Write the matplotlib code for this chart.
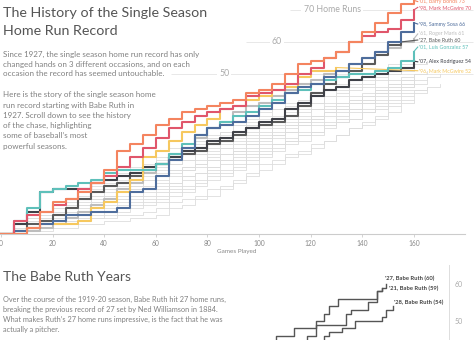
import numpy as np
import matplotlib.pyplot as plt

plt.rcParams['font.family'] = ['Lato', 'DejaVu Sans']

# cumulative home runs, read every 5 games (highlighted seasons)
bonds_01 = [0, 0, 2, 7, 10, 11, 13, 16, 20, 26, 28, 31, 34, 36, 38, 39, 40,
            41, 42, 44, 45, 47, 50, 53, 54, 55, 57, 60, 63, 66, 69, 72, 73]
mcgwire_98 = [0, 4, 6, 7, 9, 11, 14, 16, 18, 21, 24, 27, 30, 33, 35, 37, 38,
              39, 40, 43, 44, 45, 47, 50, 52, 55, 57, 60, 62, 63, 64, 67, 70]
sosa_98 = [0, 1, 2, 3, 4, 6, 6, 7, 7, 8, 13, 14, 18, 23, 27, 31, 33,
           34, 35, 37, 39, 41, 44, 46, 47, 49, 51, 53, 55, 57, 60, 63, 66]
maris_61 = [0, 0, 1, 2, 3, 5, 7, 9, 11, 14, 16, 19, 22, 25, 27, 30, 33,
            35, 38, 40, 41, 43, 45, 47, 48, 50, 51, 53, 55, 57, 58, 60, 61]
ruth_27 = [0, 1, 3, 4, 6, 8, 11, 13, 15, 16, 18, 20, 22, 24, 25, 26, 28,
           29, 31, 33, 34, 35, 37, 40, 44, 47, 49, 51, 53, 56, 59, 60]
gonzalez_01 = [0, 4, 8, 13, 14, 15, 16, 17, 19, 20, 20, 20, 22, 25, 28, 31, 33,
               35, 37, 38, 40, 42, 44, 45, 47, 48, 49, 50, 50, 51, 52, 54, 57]
arod_07 = [0, 3, 7, 13, 14, 14, 14, 16, 17, 18, 19, 21, 22, 24, 26, 27, 29,
           30, 32, 33, 35, 36, 39, 41, 43, 45, 46, 48, 49, 50, 51, 52, 54]
mcgwire_96 = [0, 1, 2, 3, 3, 3, 4, 8, 10, 13, 17, 24, 26, 29, 32, 34, 36,
              39, 40, 42, 43, 45, 46, 49, 51, 51, 52]

highlights = [
    ("'61, Roger Maris 61", maris_61, '#bdbdbd', 62.5),
    ("'27, Babe Ruth 60", ruth_27, '#5a5a5a', 60.6),
    ("'07, Alex Rodriguez 54", arod_07, '#3f4148', 53.8),
    ("'96, Mark McGwire 52", mcgwire_96, '#f6c85f', 51.0),
    ("'01, Luis Gonzalez 57", gonzalez_01, '#5ec0ba', 58.4),
    ("'98, Sammy Sosa 66", sosa_98, '#4e6d9c', 65.6),
    ("'98, Mark McGwire 70", mcgwire_98, '#e0566b', 70.8),
    ("'01, Barry Bonds 73", bonds_01, '#f4845f', 72.6),
]

# other big seasons, cumulative home runs every 5 games
others = [
    [0, 0, 1, 1, 2, 2, 3, 3, 4, 4, 5, 5, 6, 8, 9, 11, 12, 14, 16, 18, 20,
     22, 24, 25, 27, 29, 31, 33, 35, 37, 40, 41, 42],
    [0, 1, 1, 2, 3, 4, 5, 5, 6, 7, 8, 9, 10, 12, 13, 15, 17, 18, 20, 22, 24,
     26, 28, 29, 31, 33, 35, 36, 38, 40, 42, 43, 44, 45],
    [0, 1, 2, 3, 4, 5, 6, 7, 8, 9, 10, 11, 12, 14, 15, 17, 19, 20, 22, 24, 26,
     28, 30, 32, 34, 35, 37, 39, 41, 43, 45, 46, 47, 48],
    [0, 1, 3, 4, 5, 6, 7, 9, 10, 11, 12, 13, 14, 16, 18, 19, 21, 23, 24, 26, 28,
     30, 32, 34, 36, 38, 39, 41, 43, 45, 47, 48, 50],
    [0, 2, 3, 4, 6, 7, 8, 10, 11, 12, 14, 15, 16, 18, 20, 21, 23, 25, 26, 28, 30,
     32, 34, 35, 37, 39, 41, 43, 44, 46, 48, 49, 50, 51],
    [0, 1, 3, 5, 6, 8, 9, 11, 12, 14, 15, 17, 18, 20, 21, 23, 25, 27, 28, 30, 32,
     34, 36, 37, 39, 41, 43, 45, 46, 48, 50, 51, 52],
    [0, 2, 4, 5, 7, 8, 10, 11, 13, 14, 16, 18, 20, 22, 23, 25, 27, 28, 30, 32, 34,
     36, 38, 39, 41, 43, 45, 47, 48, 50, 52, 53, 53, 54],
    [0, 2, 4, 6, 8, 9, 11, 12, 14, 16, 18, 20, 22, 24, 25, 27, 29, 30, 32, 34, 36,
     37, 39, 40, 41, 43, 44, 46, 47, 49, 50, 51, 52],
    [0, 3, 5, 7, 9, 10, 12, 14, 16, 18, 20, 22, 24, 25, 27, 29, 31, 32, 34, 36, 38,
     39, 41, 42, 44, 45, 47, 48, 50, 51, 53, 54, 55],
    [0, 3, 5, 7, 9, 11, 13, 15, 17, 19, 21, 24, 26, 27, 28, 29, 30, 31, 32, 34, 35,
     36, 37, 38, 39, 40, 41, 42, 43, 45, 46, 47, 48],
    [0, 1, 1, 2, 3, 3, 4, 5, 5, 6, 6, 7, 8, 10, 11, 12, 14, 15, 17, 19, 22,
     23, 25, 26, 28, 29, 31, 33, 34, 36, 38, 40],
    [0, 1, 2, 3, 5, 6, 7, 8, 10, 11, 12, 14, 15, 16, 18, 19, 20, 22, 23, 25, 27,
     28, 29, 31, 32, 34, 35, 36, 38, 39, 41, 42, 43],
    [0, 2, 3, 5, 6, 8, 9, 11, 12, 14, 15, 17, 19, 20, 21, 22, 24, 25, 26, 28, 30,
     31, 32, 34, 35, 37, 38, 39, 41, 42, 44, 45, 45, 46],
    [0, 1, 2, 3, 4, 4, 5, 6, 7, 8, 9, 10, 11, 13, 14, 16, 18, 19, 21, 23, 25,
     27, 29, 31, 32, 34, 36, 38, 39, 41, 43, 44, 45, 46, 47],
    [0, 2, 4, 5, 7, 9, 11, 12, 14, 15, 17, 19, 21, 22, 23, 25, 26, 27, 29, 31, 33,
     34, 35, 36, 37, 38, 39, 41, 42, 44, 45, 46, 47],
    [0, 1, 2, 3, 4, 5, 7, 8, 9, 10, 11, 12, 13, 15, 17, 19, 21, 23, 25, 27, 29,
     31, 33, 34, 36, 38, 39, 41, 42, 44, 46, 47, 49],
    [0, 1, 3, 4, 6, 7, 9, 10, 11, 13, 14, 15, 17, 19, 20, 22, 23, 25, 27, 29, 31,
     33, 34, 35, 37, 38, 40, 42, 43, 45, 47, 48, 48, 49, 50],
    [0, 2, 4, 6, 8, 10, 12, 13, 15, 17, 19, 21, 23, 25, 27, 28, 30, 32, 34, 35, 37,
     39, 40, 42, 43, 45, 46, 47, 49, 50, 51, 52, 53],
]

# Babe Ruth years (zoomed view): game, cumulative HR
ruth27_g = [126, 129, 133, 136, 138, 140, 141, 143, 151, 152, 153, 154]
ruth27_h = [44, 46, 48, 48, 50, 52, 54, 56, 56, 58, 59, 60]
ruth21_g = [133, 136, 138, 143.5, 145, 146, 150, 152, 153]
ruth21_h = [44, 46, 49, 49, 52, 53, 55, 58, 59]
ruth28_g = [138, 140, 141, 144, 147, 152, 153, 154, 155.5]
ruth28_h = [44, 46, 47, 48, 50, 50, 51, 53, 54]
ruth_labels = ["'27, Babe Ruth (60)", "'21, Babe Ruth (59)", "'28, Babe Ruth (54)"]

W, H = 474, 340
fig = plt.figure(figsize=(W / 100, H / 100), dpi=100)

############################################################
# main chart
############################################################
ax = fig.add_axes([0, 1 - 234 / H, 1, 234 / H])
ax.set_xlim(-0.4, 183.3)
ax.set_ylim(0, 73.1)

for s in others:
    g = np.arange(len(s)) * 5
    ax.plot(g, s, drawstyle='steps-post', color='#dddddd', lw=0.6, zorder=2)

for name, s, c, ly in highlights:
    g = np.arange(len(s)) * 5
    ax.plot(g, s, drawstyle='steps-post', color=c, lw=1.5, zorder=3)
    ax.plot([g[-1], 161.5], [s[-1], ly], color=c, lw=0.8, zorder=3)
    ax.text(162, ly, name, color=c, fontsize=3.8, va='center', ha='left',
            clip_on=False)

# reference lines
for y, x0, lab, xl in [(50, 66, '50', 86.5), (60, 95, '60', 107),
                       (70, 112, '70 Home Runs', 128.3)]:
    ax.hlines(y, x0, 183, color='#e8e8e8', lw=0.7, zorder=1)
    ax.text(xl, y, lab, color='#aaaaaa', fontsize=6.3, ha='center', va='center',
            zorder=1.5, bbox=dict(fc='white', ec='none', pad=1.5))

for sp in ['top', 'left', 'right']:
    ax.spines[sp].set_visible(False)
ax.spines['bottom'].set_color('#cccccc')
ax.spines['bottom'].set_linewidth(0.8)
ax.spines['bottom'].set_bounds(-0.4, 180)
ax.set_yticks([])
ax.set_xticks(range(0, 161, 20))
ax.tick_params(axis='x', colors='#cccccc', length=2, width=0.6,
               labelsize=4.8, labelcolor='#888888', pad=2)
ax.set_xlabel('Games Played', fontsize=4.6, color='#888888', labelpad=1.5)
ax.patch.set_alpha(0)

############################################################
# texts
############################################################
def ftext(x, y, s, **kw):
    fig.text(x / W, 1 - y / H, s, va='center', ha='left', **kw)

ftext(3, 13, 'The History of the Single Season', fontsize=10.3, color='#555555')
ftext(3, 31, 'Home Run Record', fontsize=10.3, color='#555555')

p1 = ['Since 1927, the single season home run record has only',
      'changed hands on 3 different occasions, and on each',
      'occasion the record has seemed untouchable.']
for i, t in enumerate(p1):
    ftext(3, 54 + i * 10, t, fontsize=5.8, color='#808080')

p2 = ['Here is the story of the single season home',
      'run record starting with Babe Ruth in',
      '1927. Scroll down to see the history',
      'of the chase, highlighting',
      "some of baseball\u2019s most",
      'powerful seasons.']
for i, t in enumerate(p2):
    ftext(3, 95 + i * 10.2, t, fontsize=5.8, color='#808080')

ftext(3, 277, 'The Babe Ruth Years', fontsize=10.0, color='#555555')
p3 = ['Over the course of the 1919-20 season, Babe Ruth hit 27 home runs,',
      'breaking the previous record of 27 set by Ned Williamson in 1884.',
      "What makes Ruth\u2019s 27 home runs impressive, is the fact that he was",
      'actually a pitcher.']
for i, t in enumerate(p3):
    ftext(3, 299 + i * 10.3, t, fontsize=5.35, color='#808080')

############################################################
# Babe Ruth mini chart
############################################################
ax2 = fig.add_axes([240 / W, 0, 209 / W, 75 / H])
ax2.set_xlim(120.8, 168.3)
ax2.set_ylim(44.86, 65.1)
for (gg, hh), lab, ly, lx in zip([(ruth27_g, ruth27_h), (ruth21_g, ruth21_h),
                                   (ruth28_g, ruth28_h)], ruth_labels,
                                  [61.4, 58.9, 55.1], [153.8, 154.6, 155.8]):
    ax2.plot(gg, hh, drawstyle='steps-post', color='#555555', lw=1.0)
    ax2.text(lx, ly, lab, fontsize=4.2, color='#444444', va='center',
             ha='left', fontweight='bold')
for sp in ['top', 'left', 'bottom']:
    ax2.spines[sp].set_visible(False)
ax2.spines['right'].set_color('#dddddd')
ax2.spines['right'].set_linewidth(0.7)
ax2.set_xticks([])
ax2.yaxis.tick_right()
ax2.set_yticks([50, 60])
ax2.tick_params(axis='y', length=0, labelsize=5, labelcolor='#aaaaaa', pad=4)
ax2.patch.set_alpha(0)

fig.savefig('out.png', dpi=100)
